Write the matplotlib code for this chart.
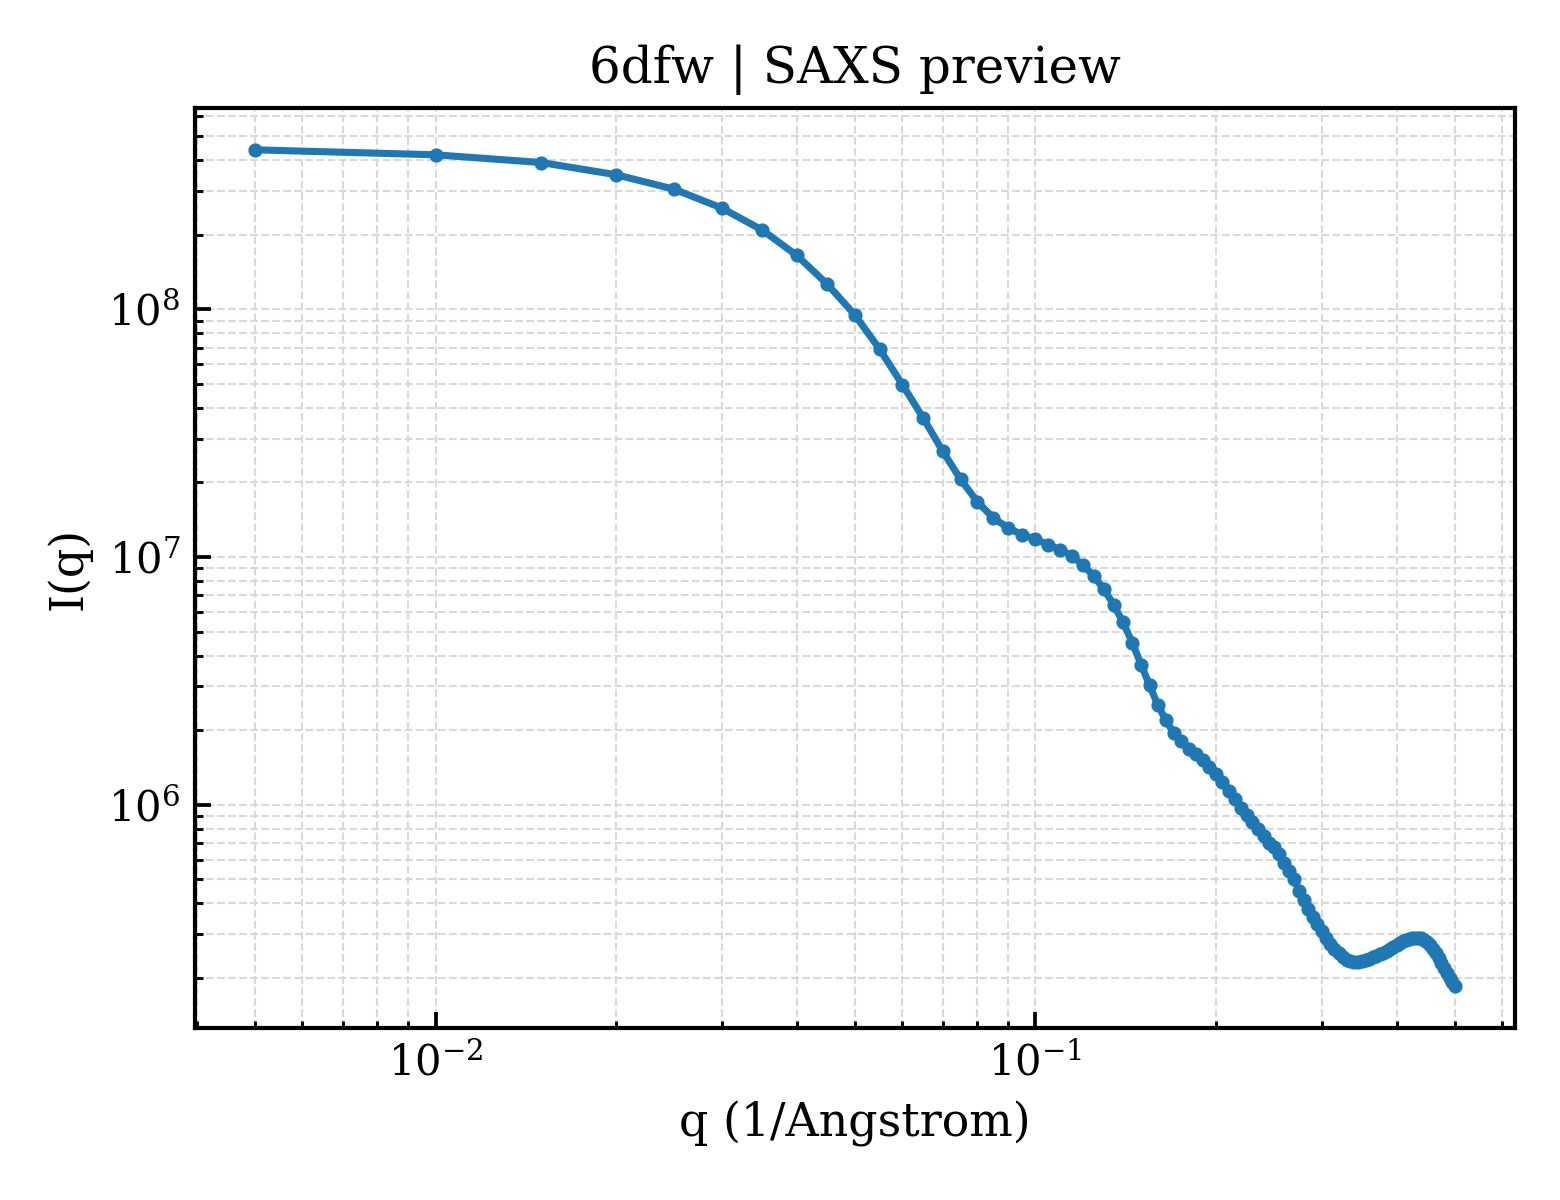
import numpy as np
import matplotlib
matplotlib.use('Agg')
import matplotlib.pyplot as plt

plt.rcParams['font.family'] = ['DejaVu Serif']
plt.rcParams['mathtext.fontset'] = 'dejavuserif'

# q grid (1/Angstrom)
q = [0.005 * k for k in range(1, 101)]

# intensities
intensity = [
    4.40e8, 4.20e8, 3.91e8, 3.49e8, 3.05e8, 2.56e8, 2.09e8, 1.65e8, 1.26e8, 9.48e7,
    6.89e7, 4.96e7, 3.64e7, 2.68e7, 2.06e7, 1.67e7, 1.44e7, 1.31e7, 1.23e7, 1.18e7,
    1.12e7, 1.07e7, 1.01e7, 9.27e6, 8.40e6, 7.41e6, 6.42e6, 5.44e6, 4.51e6, 3.68e6,
    3.03e6, 2.52e6, 2.19e6, 1.95e6, 1.80e6, 1.68e6, 1.60e6, 1.51e6, 1.42e6, 1.33e6,
    1.24e6, 1.14e6, 1.05e6, 9.70e5, 9.05e5, 8.51e5, 8.00e5, 7.47e5, 7.02e5, 6.77e5,
    6.31e5, 5.83e5, 5.41e5, 5.00e5, 4.49e5, 4.13e5, 3.80e5, 3.53e5, 3.29e5, 3.08e5,
    2.89e5, 2.74e5, 2.62e5, 2.51e5, 2.43e5, 2.36e5, 2.33e5, 2.32e5, 2.32e5, 2.34e5,
    2.36e5, 2.39e5, 2.42e5, 2.45e5, 2.49e5, 2.52e5, 2.57e5, 2.61e5, 2.66e5, 2.71e5,
    2.76e5, 2.81e5, 2.85e5, 2.87e5, 2.89e5, 2.90e5, 2.90e5, 2.89e5, 2.85e5, 2.80e5,
    2.71e5, 2.61e5, 2.51e5, 2.41e5, 2.30e5, 2.19e5, 2.10e5, 2.00e5, 1.92e5, 1.85e5,
]

title = '6dfw | SAXS preview'

fig, ax = plt.subplots(figsize=(5.2, 4.0), dpi=300)
fig.subplots_adjust(left=0.125, right=0.971, bottom=0.1433, top=0.91)

ax.plot(q, intensity, color='#1f77b4', linewidth=1.7, marker='o', markersize=2.4)
ax.set_xscale('log')
ax.set_yscale('log')

ax.grid(True, which='both', linestyle='--', linewidth=0.5, color='#d9d9d9')
ax.tick_params(which='both', direction='in', labelsize=10)
ax.tick_params(which='major', length=3.8, width=0.9)
ax.tick_params(which='minor', length=1.8, width=0.7)
for s in ax.spines.values():
    s.set_linewidth(1.0)

ax.set_xlabel('q (1/Angstrom)', fontsize=11)
ax.set_ylabel('I(q)', fontsize=11)
ax.set_title(title, fontsize=12)

fig.savefig('out.png', dpi=300)
